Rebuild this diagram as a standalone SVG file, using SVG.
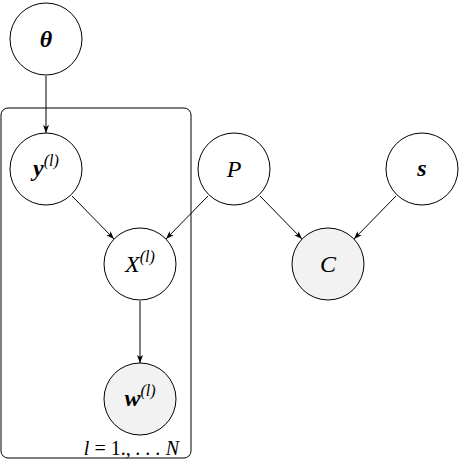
<svg xmlns="http://www.w3.org/2000/svg" width="459" height="460" viewBox="0 0 459 460">
<defs>
<marker id="ah" markerWidth="8" markerHeight="6" refX="8" refY="3" orient="auto" markerUnits="userSpaceOnUse">
<path d="M0,0 L8,3 L0,6 L2,3 Z" fill="#000"/>
</marker>
</defs>
<style>
.n{fill:#fff;stroke:#000;stroke-width:1}
.o{fill:#f2f2f2;stroke:#000;stroke-width:1}
.e{stroke:#000;stroke-width:1;fill:none;marker-end:url(#ah)}
.t{font-size:24px;text-anchor:middle}
.b{font-weight:bold}
.sup{font-size:16px;font-weight:normal}
.r{font-style:normal}
</style>
<rect width="459" height="460" fill="#fff"/>
<g font-family="'Liberation Serif', serif" font-style="italic" fill="#000">
<g id="plate"><rect x="1" y="108" width="190" height="350" rx="7" fill="none" stroke="#000" stroke-width="1"/>
<text x="179" y="455" font-size="20" text-anchor="end">l <tspan class="r">= 1.,</tspan> . . . N</text></g>
<g id="connectors">
<line class="e" x1="46" y1="76" x2="46" y2="133"/>
<line class="e" x1="72" y1="196" x2="114" y2="239"/>
<line class="e" x1="208" y1="196" x2="166" y2="239"/>
<line class="e" x1="260" y1="196" x2="302" y2="239"/>
<line class="e" x1="396" y1="196" x2="354" y2="239"/>
<line class="e" x1="140" y1="301" x2="140" y2="363"/>
</g>
<g id="theta"><circle class="n" cx="46" cy="39" r="36"/><text class="t b" x="46" y="47">θ</text></g>
<g id="y"><circle class="n" cx="46" cy="169" r="36"/><text class="t" x="46" y="176"><tspan class="b">y</tspan><tspan class="sup" dy="-10">(l)</tspan></text></g>
<g id="P"><circle class="n" cx="234" cy="169" r="36"/><text class="t" x="234" y="177">P</text></g>
<g id="s"><circle class="n" cx="422" cy="169" r="36"/><text class="t b" x="422" y="176">s</text></g>
<g id="X"><circle class="n" cx="140" cy="264" r="36"/><text class="t" x="140" y="272">X<tspan class="sup" dy="-10">(l)</tspan></text></g>
<g id="C"><circle class="o" cx="328" cy="264" r="36"/><text class="t" x="328" y="272">C</text></g>
<g id="w"><circle class="o" cx="140" cy="399" r="36"/><text class="t" x="140" y="406"><tspan class="b">w</tspan><tspan class="sup" dy="-10">(l)</tspan></text></g>
</g>
</svg>
